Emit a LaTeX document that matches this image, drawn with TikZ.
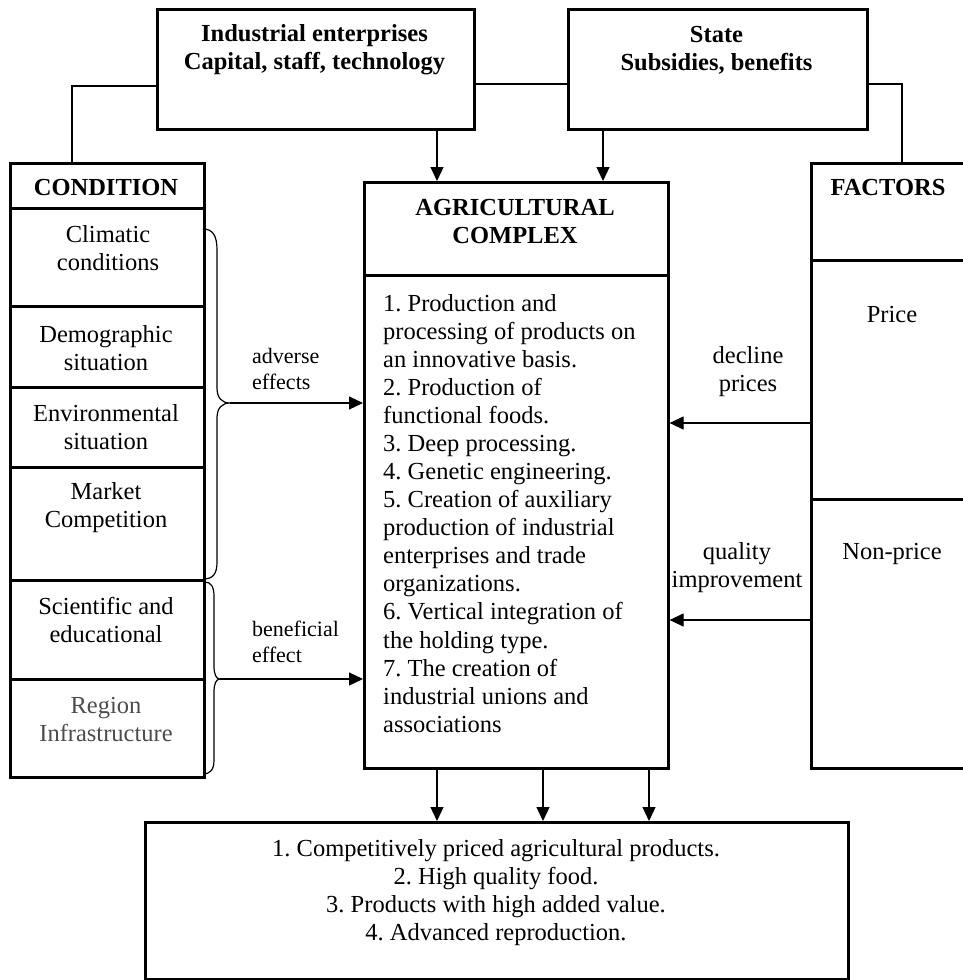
\documentclass[tikz,border=0pt]{standalone}
\usepackage{fontspec}
\setmainfont{Liberation Serif}
\usetikzlibrary{arrows.meta}
\frenchspacing
\begin{document}
\begin{tikzpicture}[x=1pt,y=-1pt,
  box/.style={draw, line width=2.6pt, inner sep=0pt, anchor=north west},
  conn/.style={line width=1.2pt},
  arr/.style={line width=1.2pt, -{Triangle[length=14pt,width=13pt]}},
  txt/.style={inner sep=0pt, align=center, font=\fontsize{24.5}{28}\selectfont},
  btxt/.style={inner sep=0pt, align=center, font=\fontsize{24.5}{28}\selectfont\bfseries},
  stxt/.style={inner sep=0pt, align=left, anchor=west, font=\fontsize{22}{26}\selectfont},
  ltxt/.style={inner sep=0pt, align=left, anchor=north west, font=\fontsize{24.5}{28.07}\selectfont},
]
\useasboundingbox (0,0) rectangle (963,980);

% boxes
\node[box, minimum width=317pt, minimum height=120pt] (ind) at (156,8) {};
\node[box, minimum width=299pt, minimum height=120pt] (state) at (567,8) {};

\node[box, minimum width=194pt, minimum height=45pt] (condh) at (9,162) {};
\node[box, minimum width=194pt, minimum height=98pt] (clim) at (9,207) {};
\node[box, minimum width=194pt, minimum height=81pt] (demo) at (9,305) {};
\node[box, minimum width=194pt, minimum height=80pt] (envi) at (9,386) {};
\node[box, minimum width=194pt, minimum height=113pt] (mark) at (9,466) {};
\node[box, minimum width=194pt, minimum height=99pt] (scie) at (9,579) {};
\node[box, minimum width=194pt, minimum height=98pt] (regi) at (9,678) {};

\node[box, minimum width=304pt, minimum height=93pt] (agrih) at (363,181) {};
\node[box, minimum width=304pt, minimum height=493pt] (agrib) at (363,274) {};

\node[box, minimum width=170pt, minimum height=97pt] (fach) at (810,162) {};
\node[box, minimum width=170pt, minimum height=239pt] (price) at (810,259) {};
\node[box, minimum width=170pt, minimum height=269pt] (nonp) at (810,498) {};

\node[box, minimum width=703pt, minimum height=157pt] (bot) at (144,821) {};

% texts
\node[btxt] (indt) at (314.5,50) {Industrial enterprises\\Capital, staff, technology};
\node[btxt] (statet) at (716.5,50) {State\\Subsidies, benefits};
\node[btxt] (condt) at (106,188) {CONDITION};
\node[txt] (climt) at (108,248) {Climatic\\conditions};
\node[txt] (demot) at (106,348) {Demographic\\situation};
\node[txt] (envit) at (106,427.5) {Environmental\\situation};
\node[txt] (markt) at (106,507.5) {Market\\Competition};
\node[txt] (sciet) at (106,619.5) {Scientific and\\educational};
\node[txt, text=black!70] (regit) at (106,719.5) {Region\\Infrastructure};
\node[btxt] (agriht) at (515,221.5) {AGRICULTURAL\\COMPLEX};
\node[ltxt] (agribt) at (383,294) {1. Production and\\processing of products on\\an innovative basis.\\2. Production of\\functional foods.\\3. Deep processing.\\4. Genetic engineering.\\5. Creation of auxiliary\\production of industrial\\enterprises and trade\\organizations.\\6. Vertical integration of\\the holding type.\\7. The creation of\\industrial unions and\\associations};
\node[btxt] (fact) at (888,188) {FACTORS};
\node[txt] (pricet) at (892,315) {Price};
\node[txt] (nonpt) at (892,554) {Non-price};
\node[stxt] (advt) at (252,369) {adverse\\effects};
\node[stxt] (bent) at (252,642) {beneficial\\effect};
\node[txt] (declt) at (748,371.5) {decline\\prices};
\node[txt] (qualt) at (737,568) {quality\\improvement};
\node[txt] (bott) at (496,893) {1. Competitively priced agricultural products.\\2. High quality food.\\3. Products with high added value.\\4. Advanced reproduction.};

% connector helper coordinates
\coordinate (c1) at (72,86);
\coordinate (c2) at (520,84);
\coordinate (c3) at (902,84);
\coordinate (xa) at (437,0);
\coordinate (xs) at (603,0);
\coordinate (xb1) at (437,0);
\coordinate (xb2) at (543,0);
\coordinate (xb3) at (649,0);
\coordinate (ya) at (0,423);
\coordinate (yb) at (0,620);
\coordinate (bt1) at (230,403);
\coordinate (bt2) at (220,679);

% lines
\draw[conn] (ind.west |- c1) -| (condh.north -| c1);
\draw[conn] (ind.east |- c2) -- (state.west |- c2);
\draw[conn] (state.east |- c3) -| (fach.north -| c3);

\draw[arr] (ind.south -| xa) -- (agrih.north -| xa);
\draw[arr] (state.south -| xs) -- (agrih.north -| xs);

% braces
\draw[conn] (203,229) .. controls (213,229) and (217,236) .. (217,250) -- (217,388)
  .. controls (217,398) and (222,403) .. (bt1)
  .. controls (222,403) and (217,408) .. (217,418) -- (217,562)
  .. controls (217,574) and (213,579) .. (203,579);
\draw[conn] (205,582) .. controls (211,582) and (214,587) .. (214,596) -- (214,666)
  .. controls (214,674) and (216,679) .. (bt2)
  .. controls (216,679) and (214,684) .. (214,692) -- (214,760)
  .. controls (214,770) and (210,774) .. (203,774);

\draw[arr] (bt1) -- (agrib.west |- bt1);
\draw[arr] (bt2) -- (agrib.west |- bt2);

\draw[arr] (price.west |- ya) -- (agrib.east |- ya);
\draw[arr] (nonp.west |- yb) -- (agrib.east |- yb);

\draw[arr] (agrib.south -| xb1) -- (bot.north -| xb1);
\draw[arr] (agrib.south -| xb2) -- (bot.north -| xb2);
\draw[arr] (agrib.south -| xb3) -- (bot.north -| xb3);
\end{tikzpicture}
\end{document}
